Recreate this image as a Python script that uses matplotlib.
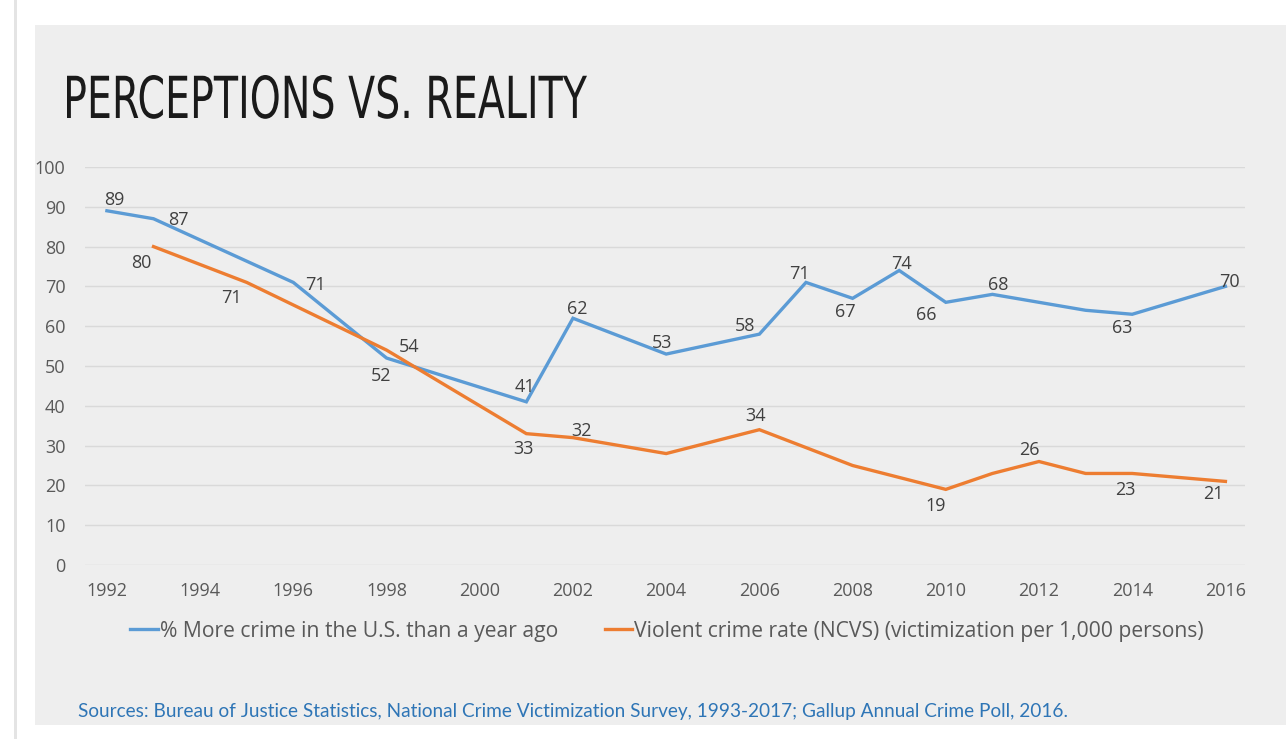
import matplotlib
matplotlib.use("Agg")
import matplotlib.pyplot as plt
from matplotlib.patches import Rectangle, PathPatch
from matplotlib.lines import Line2D
from matplotlib.textpath import TextPath
from matplotlib.font_manager import FontProperties
from matplotlib.transforms import Affine2D
from matplotlib import font_manager

# ---- data ----
blue_years = [1992, 1993, 1996, 1998, 2001, 2002, 2004, 2006, 2007, 2008, 2009, 2010, 2011, 2013, 2014, 2016]
blue_vals = [89, 87, 71, 52, 41, 62, 53, 58, 71, 67, 74, 66, 68, 64, 63, 70]
blue_show = [True, True, True, True, True, True, True, True, True, True, True, True, True, False, True, True]

orange_years = [1993, 1995, 1998, 2001, 2002, 2004, 2006, 2008, 2010, 2011, 2012, 2013, 2014, 2016]
orange_vals = [80, 71, 54, 33, 32, 28, 34, 25, 19, 23, 26, 23, 23, 21]
orange_show = [True, True, True, True, True, False, True, False, True, False, True, False, True, True]

x_ticks = list(range(1992, 2017, 2))
y_ticks = list(range(0, 101, 10))

blue_label = "% More crime in the U.S. than a year ago"
orange_label = "Violent crime rate (NCVS) (victimization per 1,000 persons)"
title = "PERCEPTIONS VS. REALITY"
source = "Sources: Bureau of Justice Statistics, National Crime Victimization Survey, 1993-2017; Gallup Annual Crime Poll, 2016."

# label offsets in points (style)
blue_off = [(5, 8), (18, -1), (16, -2), (-4, -13), (-1, 11), (3, 7), (-3, 8), (-10, 6), (-5, 6), (-5, -10), (2, 5), (-14, -9), (4, 7), (0, 0), (-7, -10), (3, 3)]
orange_off = [(-9, -12), (-11, -11), (16, 2), (-2, -11), (6, 5), (0, 0), (-3, 10), (0, 0), (-7, -12), (0, 0), (-7, 8), (0, 0), (-5, -12), (-9, -9)]

BLUE = "#5b9bd5"
ORANGE = "#ed7d31"
TXT = "#595959"

avail = {f.name for f in font_manager.fontManager.ttflist}
body_font = "Open Sans" if "Open Sans" in avail else "DejaVu Sans"

W, H = 1286, 739
fig = plt.figure(figsize=(W / 100, H / 100), dpi=100, facecolor="white")

# slide background
fig.patches.append(Rectangle((35 / W, 1 - 725 / H), 1 - 35 / W, (725 - 25) / H,
                             transform=fig.transFigure, facecolor="#eeeeee", edgecolor="none", zorder=-5))
fig.patches.append(Rectangle((14 / W, 0), 3 / W, 1, transform=fig.transFigure,
                             facecolor="#e4e4e4", edgecolor="none", zorder=-5))

ax = fig.add_axes([85 / W, 1 - 565 / H, (1245 - 85) / W, (565 - 167) / H])
ax.set_zorder(2)
ax.set_facecolor("none")
ax.set_xlim(1991.53, 2016.42)
ax.set_ylim(0, 100)
for s in ax.spines.values():
    s.set_visible(False)
ax.set_yticks(y_ticks)
ax.set_xticks(x_ticks)
ax.grid(axis="y", color="#d9d9d9", linewidth=1.0)
ax.set_axisbelow(True)
ax.tick_params(length=0, labelsize=13, labelcolor=TXT)
for lab in ax.get_xticklabels() + ax.get_yticklabels():
    lab.set_fontfamily(body_font)
ax.tick_params(axis="x", pad=12)
ax.tick_params(axis="y", pad=14)

ax.plot(blue_years, blue_vals, color=BLUE, linewidth=2.4, solid_joinstyle="miter", zorder=3)
ax.plot(orange_years, orange_vals, color=ORANGE, linewidth=2.4, solid_joinstyle="miter", zorder=3)

for x, y, show, off in zip(blue_years, blue_vals, blue_show, blue_off):
    if show:
        ax.annotate(str(y), (x, y), xytext=off, textcoords="offset points", ha="center", va="center",
                    fontsize=13, color="#404040", family=body_font, zorder=4)
for x, y, show, off in zip(orange_years, orange_vals, orange_show, orange_off):
    if show:
        ax.annotate(str(y), (x, y), xytext=off, textcoords="offset points", ha="center", va="center",
                    fontsize=13, color="#404040", family=body_font, zorder=4)

handles = [Line2D([], [], color=BLUE, linewidth=2.4), Line2D([], [], color=ORANGE, linewidth=2.4)]
leg = fig.legend(handles, [blue_label, orange_label], loc="center", bbox_to_anchor=(667 / W, 1 - 631 / H),
                 ncol=2, frameon=False, prop={"family": body_font, "size": 15.2}, labelcolor=TXT,
                 handlelength=1.3, handletextpad=0.1, columnspacing=2.2)

# condensed title drawn as a scaled text path (pixel coordinates)
tp = TextPath((0, 0), title, size=60, prop=FontProperties(family="DejaVu Sans"))
bb = tp.get_extents()
target_w, target_h = 520.0, 43.0
sx = target_w / bb.width
sy = target_h / (bb.y1 - 0)
tr = Affine2D().translate(-bb.x0, 0).scale(sx, sy).translate(67, H - 118)
fig.patches.append(PathPatch(tr.transform_path(tp), facecolor="#1a1a1a", edgecolor="none",
                             transform=None, zorder=5))

fig.text(78 / W, 1 - 711 / H, source, fontsize=13.7, family="Lato", color="#2e75b6", va="center", ha="left")

fig.savefig("out.png", dpi=100, facecolor="white")
